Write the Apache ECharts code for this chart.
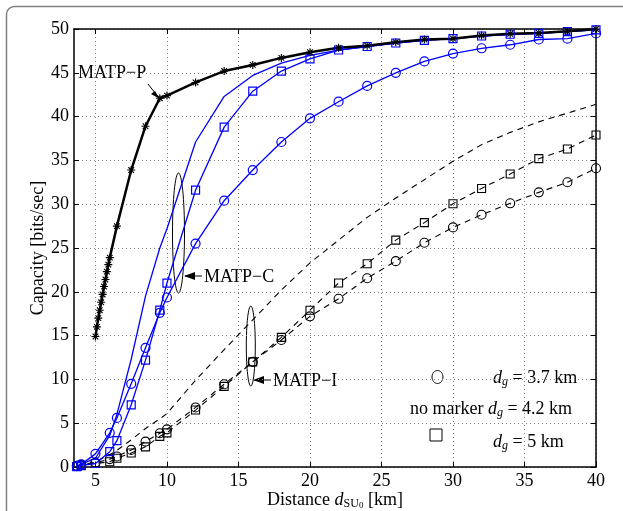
<!DOCTYPE html>
<html><head><meta charset="utf-8">
<script src="https://cdn.jsdelivr.net/npm/echarts@6/dist/echarts.min.js"></script>
<style>html,body{margin:0;padding:0;background:#fff}#c{width:623px;height:511px}</style>
</head><body><div id="c"></div>
<script>
// ---- data ----
const xTickValues = [5, 10, 15, 20, 25, 30, 35, 40];
const yTickValues = [0, 5, 10, 15, 20, 25, 30, 35, 40, 45, 50];

const distC = [3.7, 4, 5, 6, 6.5, 7.5, 8.5, 9.5, 10, 12, 14, 16, 18, 20, 22, 24, 26, 28, 30, 32, 34, 36, 38, 40];
// MATP-C (blue)
const matpC_37 = [0.1, 0.3, 1.5, 3.9, 5.6, 9.5, 13.6, 17.6, 19.35, 25.5, 30.4, 33.9, 37.1, 39.8, 41.7, 43.5, 45.0, 46.3, 47.2, 47.8, 48.2, 48.8, 48.9, 49.5];
const matpC_42 = [0.1, 0.3, 1.0, 3.6, 6.0, 12.3, 19.5, 25.0, 27.2, 37.1, 42.3, 44.7, 46.1, 47.0, 47.6, 48.0, 48.4, 48.7, 48.9, 49.2, 49.4, 49.5, 49.7, 49.9];
const matpC_5  = [0.05, 0.2, 0.4, 1.75, 3.0, 7.1, 12.2, 17.9, 21.0, 31.6, 38.8, 42.9, 45.2, 46.6, 47.6, 48.0, 48.4, 48.7, 48.9, 49.2, 49.4, 49.5, 49.7, 49.9];
// MATP-I (black dashed)
const matpI_37 = [0.15, 0.25, 0.5, 0.9, 1.2, 1.95, 2.9, 3.85, 4.3, 6.8, 9.45, 12.0, 14.5, 17.2, 19.2, 21.55, 23.5, 25.6, 27.35, 28.8, 30.1, 31.35, 32.5, 34.1];
const matpI_42 = [0.1, 0.2, 0.6, 1.4, 1.9, 3.1, 4.4, 5.5, 6.1, 9.9, 13.4, 16.8, 20.2, 23.3, 25.9, 28.5, 30.7, 32.8, 34.9, 36.8, 38.2, 39.4, 40.4, 41.4];
const matpI_5  = [0.05, 0.15, 0.4, 0.6, 1.0, 1.6, 2.3, 3.5, 3.9, 6.5, 9.2, 12.0, 14.8, 17.9, 21.0, 23.2, 25.9, 27.9, 30.05, 31.8, 33.45, 35.2, 36.3, 37.9];
// MATP-P (black thick, asterisks)
const distP = [5, 5.1, 5.2, 5.3, 5.4, 5.5, 5.6, 5.7, 5.8, 5.9, 6, 6.5, 7.5, 8.5, 9.5, 10, 12, 14, 16, 18, 20, 22, 24, 26, 28, 30, 32, 34, 36, 38, 40];
const matpP = [14.9, 16.0, 17.0, 17.9, 18.8, 19.7, 20.6, 21.4, 22.3, 23.1, 23.9, 27.5, 33.9, 38.9, 42.1, 42.4, 43.9, 45.2, 45.9, 46.7, 47.35, 47.85, 48.1, 48.5, 48.8, 48.9, 49.25, 49.45, 49.55, 49.75, 50.0];

const pair = (xs, ys) => xs.map((x, i) => [x, ys[i]]);
const FONT = 'Liberation Serif';
const FS = 18;
const BLUE = '#0000ff';
const star = 'path://M-0.7,-5h1.4v10h-1.4zM-5,-0.7h10v1.4h-10zM-4,-3L-3,-4L4,3L3,4zM3,-4L4,-3L-3,4L-4,3z';

const chart = echarts.init(document.getElementById('c'), null, {renderer: 'canvas'});

function xAx(pos, show) {
  return {
    type: 'value', position: pos, min: 3.5, max: 40,
    axisLine: {show: true, onZero: false, lineStyle: {color: '#000', width: 1.5}},
    axisTick: {show: true, inside: true, length: 5, customValues: xTickValues, lineStyle: {color: '#000', width: 1}},
    axisLabel: {show: show, customValues: xTickValues, color: '#000', fontFamily: FONT, fontSize: FS, margin: 5},
    splitLine: {show: show, lineStyle: {color: '#808080', type: [1, 3], width: 1}}
  };
}
function yAx(pos, show) {
  return {
    type: 'value', position: pos, min: 0, max: 50, interval: 5,
    axisLine: {show: true, onZero: false, lineStyle: {color: '#000', width: 1.5}},
    axisTick: {show: true, inside: true, length: 5, lineStyle: {color: '#000', width: 1}},
    axisLabel: {show: show, color: '#000', fontFamily: FONT, fontSize: FS, margin: 5},
    splitLine: {show: show, lineStyle: {color: '#808080', type: [1, 3], width: 1}}
  };
}

const blueLine = {color: BLUE, width: 1.3};
const emptyBlue = {color: 'transparent', borderColor: BLUE, borderWidth: 1.2};
const emptyBlack = {color: 'transparent', borderColor: '#000', borderWidth: 1.1};
const dashLine = {color: '#000', width: 1.1, type: [6, 5]};

const series = [
  {name: 'I-4.2', type: 'line', data: pair(distC, matpI_42), symbol: 'none', lineStyle: dashLine},
  {name: 'I-3.7', type: 'line', data: pair(distC, matpI_37), symbol: 'circle', symbolSize: 9, itemStyle: emptyBlack, lineStyle: dashLine},
  {name: 'I-5', type: 'line', data: pair(distC, matpI_5), symbol: 'rect', symbolSize: 8, itemStyle: emptyBlack, lineStyle: dashLine},
  {name: 'C-4.2', type: 'line', data: pair(distC, matpC_42), symbol: 'none', lineStyle: blueLine},
  {name: 'C-3.7', type: 'line', data: pair(distC, matpC_37), symbol: 'circle', symbolSize: 9, itemStyle: emptyBlue, lineStyle: blueLine},
  {name: 'C-5', type: 'line', data: pair(distC, matpC_5), symbol: 'rect', symbolSize: 8, itemStyle: emptyBlue, lineStyle: blueLine},
  {name: 'P', type: 'line', data: pair(distP, matpP), symbol: star, symbolSize: 8, itemStyle: {color: '#000'}, lineStyle: {color: '#000', width: 2.5}}
].map(s => Object.assign({animation: false, silent: true, clip: false, xAxisIndex: 0, yAxisIndex: 0}, s));

const txt = (size, italic) => ({font: (italic ? 'italic ' : '') + size + 'px "Liberation Serif"', fill: '#000'});

chart.setOption({
  animation: false,
  backgroundColor: '#fff',
  grid: {left: 74, right: 27, top: 29, bottom: 44, containLabel: false},
  xAxis: [xAx('bottom', true), xAx('top', false)],
  yAxis: [yAx('left', true), yAx('right', false)],
  series: series,
  graphic: [
    {type: 'rect', shape: {x: 6.5, y: 6.5, width: 660, height: 560, r: 8}, style: {fill: 'none', stroke: '#808080', lineWidth: 1.5}, z: -1},
    {type: 'text', x: 38, y: 248, rotation: Math.PI / 2, style: Object.assign({text: 'Capacity [bits/sec]', align: 'center', verticalAlign: 'middle'}, txt(FS))},
    {type: 'text', x: 335, y: 500, style: {
      text: '{n|Distance }{i|d}{s|SU}{z|0}{n| [km]}', align: 'center', verticalAlign: 'middle',
      rich: {
        n: txt(FS), i: txt(FS, true),
        s: Object.assign({padding: [8, 0, 0, 0]}, txt(12)),
        z: Object.assign({padding: [12, 0, 0, 0]}, txt(9))
      }}},
    // MATP-P label and arrow
    {type: 'text', x: 78, y: 73, style: Object.assign({text: 'MATP\u2212P', verticalAlign: 'middle'}, txt(FS))},
    {type: 'line', shape: {x1: 148, y1: 84, x2: 159, y2: 98}, style: {stroke: '#000', lineWidth: 1}},
    {type: 'polygon', shape: {points: [[160, 99], [151, 94], [155, 91]]}, style: {fill: '#000'}},
    // MATP-C ellipse, arrow, label
    {type: 'ellipse', shape: {cx: 178.5, cy: 233, rx: 6, ry: 60}, style: {fill: 'none', stroke: '#000', lineWidth: 1}},
    {type: 'line', shape: {x1: 202, y1: 276, x2: 185, y2: 276}, style: {stroke: '#000', lineWidth: 1}},
    {type: 'polygon', shape: {points: [[184, 276], [195, 272], [195, 280]]}, style: {fill: '#000'}},
    {type: 'text', x: 204, y: 277, style: Object.assign({text: 'MATP\u2212C', verticalAlign: 'middle'}, txt(FS))},
    // MATP-I ellipse, arrow, label
    {type: 'ellipse', shape: {cx: 250.8, cy: 346, rx: 4.5, ry: 40}, style: {fill: 'none', stroke: '#000', lineWidth: 1}},
    {type: 'line', shape: {x1: 271, y1: 380, x2: 254, y2: 380}, style: {stroke: '#000', lineWidth: 1}},
    {type: 'polygon', shape: {points: [[253, 380], [264, 376], [264, 384]]}, style: {fill: '#000'}},
    {type: 'text', x: 273, y: 381, style: Object.assign({text: 'MATP\u2212I', verticalAlign: 'middle'}, txt(FS))},
    // legend
    {type: 'ellipse', shape: {cx: 437.5, cy: 377, rx: 5.5, ry: 6.5}, style: {fill: 'none', stroke: '#000', lineWidth: 1}},
    {type: 'rect', shape: {x: 430, y: 429, width: 12, height: 12}, style: {fill: 'none', stroke: '#000', lineWidth: 1}},
    {type: 'text', x: 493, y: 378, style: {text: '{i|d}{s|g}{n| = 3.7 km}', verticalAlign: 'middle',
      rich: {n: txt(FS), i: txt(FS, true), s: Object.assign({padding: [7, 0, 0, 0]}, txt(12, true))}}},
    {type: 'text', x: 410, y: 409, style: {text: '{n|no marker }{i|d}{s|g}{n| = 4.2 km}', verticalAlign: 'middle',
      rich: {n: txt(FS), i: txt(FS, true), s: Object.assign({padding: [7, 0, 0, 0]}, txt(12, true))}}},
    {type: 'text', x: 493, y: 442, style: {text: '{i|d}{s|g}{n| = 5 km}', verticalAlign: 'middle',
      rich: {n: txt(FS), i: txt(FS, true), s: Object.assign({padding: [7, 0, 0, 0]}, txt(12, true))}}}
  ]
});
</script>
</body></html>
